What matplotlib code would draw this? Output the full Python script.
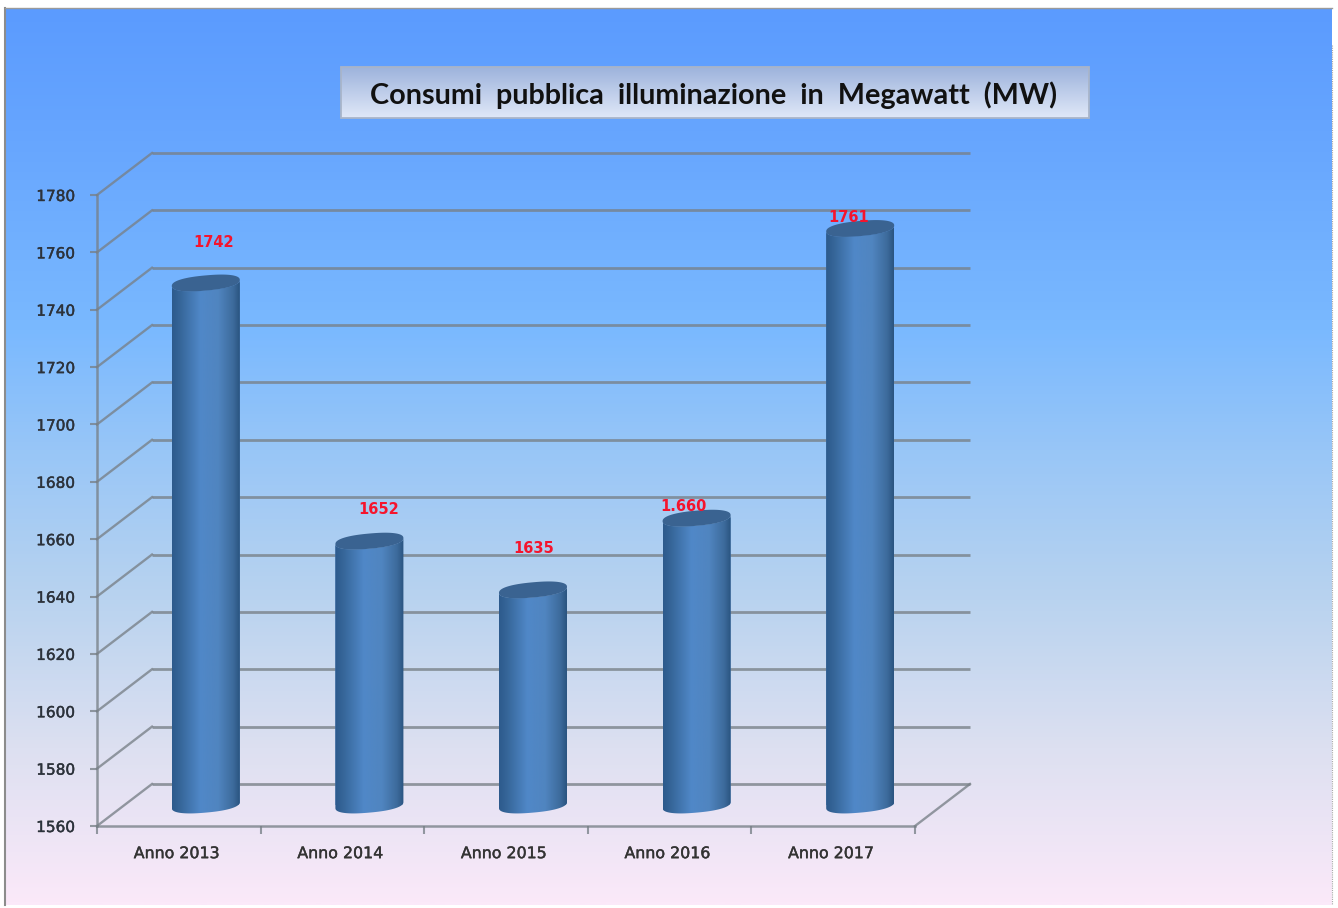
import numpy as np
import matplotlib
matplotlib.use("Agg")
import matplotlib.pyplot as plt
import matplotlib.patheffects as pe
from matplotlib.colors import LinearSegmentedColormap
from matplotlib.patches import PathPatch, Rectangle
from matplotlib.path import Path
from matplotlib.transforms import Affine2D, IdentityTransform

categories = ["Anno 2013", "Anno 2014", "Anno 2015", "Anno 2016", "Anno 2017"]
values = [1742, 1652, 1635, 1660, 1761]
value_labels = ["1742", "1652", "1635", "1.660", "1761"]
y_ticks = list(range(1560, 1781, 20))
title = "Consumi  pubblica  illuminazione  in  Megawatt  (MW)"

W, H = 1338, 908
fig = plt.figure(figsize=(W / 100, H / 100), dpi=100, facecolor="white")

# ---------- background (pixel coordinates, y down)
bg = fig.add_axes([0, 0, 1, 1], zorder=0)
bg.set_xlim(0, W); bg.set_ylim(H, 0); bg.axis("off")
stops = [(8, "#5b9bff"), (130, "#66a5fe"), (330, "#7ab9ff"), (450, "#98c6f7"),
         (600, "#b9d3ef"), (750, "#dde0f1"), (905, "#fbe9f9")]
cm = LinearSegmentedColormap.from_list(
    "bgc", [((y - 8) / (905 - 8), c) for y, c in stops])
bg.imshow(np.linspace(0, 1, 512)[:, None], cmap=cm, extent=(5, 1332, 905, 8),
          aspect="auto", zorder=0)
bg.set_xlim(0, W); bg.set_ylim(H, 0)
bg.plot([5, 5], [8, 905], color="#8c8c8c", lw=1.5, zorder=1)
bg.plot([5, 1332], [8, 8], color="#9a9a9a", lw=1.0, zorder=1)
bg.plot([1332, 1332], [45, 905], color="#a8a8a8", lw=0.8, ls=(0, (1, 1)), zorder=1)

# title box
tcm = LinearSegmentedColormap.from_list("tb", ["#9db3dc", "#e0e8f8"])
bg.imshow(np.linspace(0, 1, 128)[:, None], cmap=tcm, extent=(341, 1089, 118, 67),
          aspect="auto", zorder=2)
bg.set_xlim(0, W); bg.set_ylim(H, 0)
bg.add_patch(Rectangle((341, 67), 748, 51, fill=False, ec="#a9b5c9", lw=1.3, zorder=3))
bg.text(714, 95.5, title, ha="center", va="center", fontsize=20.7,
        family="Lato", weight="bold", color="#111111", zorder=4)

# ---------- chart axes
ax = fig.add_axes([97 / W, 1 - 826 / H, (915 - 97) / W, (826 - 195) / H], zorder=1)
ax.patch.set_alpha(0)
ax.set_xlim(-0.5, 4.5)
ax.set_ylim(1560, 1780)
for s in ("top", "right"):
    ax.spines[s].set_visible(False)
GRID = (0.47, 0.50, 0.53, 0.78)
for s in ("left", "bottom"):
    ax.spines[s].set_color(GRID)
    ax.spines[s].set_linewidth(1.8)
ax.set_yticks(y_ticks)
ax.set_xticks(np.arange(-0.5, 5.0, 1.0))
ax.set_xticklabels([])
ax.set_xticks(np.arange(len(categories)), categories, minor=True)
ax.tick_params(axis="y", length=5, width=1.5, color=GRID, pad=11, labelsize=11,
               labelcolor="#2b323c")
ax.tick_params(axis="x", which="major", length=6, width=1.5, color=GRID)
ax.tick_params(axis="x", which="minor", length=0, pad=14.5, labelsize=11.4,
               labelcolor="#333333")
stroke = [pe.withStroke(linewidth=0.3, foreground="#333333")]
for lab in ax.get_yticklabels():
    lab.set_transform(lab.get_transform() + Affine2D().translate(0, 0))
    lab.set_path_effects(stroke)
for lab in ax.get_xticklabels(minor=True):
    lab.set_transform(lab.get_transform() + Affine2D().translate(-2, 0))
    lab.set_path_effects(stroke)

DX, DY = 55, 42      # depth of the box, pixels
back = ax.transData + Affine2D().translate(DX, DY)
mid = ax.transData + Affine2D().translate(DX / 2 - 0.5, DY / 2)

# back wall lines and the slanted side-wall lines
for v in y_ticks:
    ax.plot([-0.5, 4.5], [v, v], transform=back, color=GRID, lw=2.0,
            clip_on=False, zorder=1, solid_capstyle="butt")
    p0 = ax.transData.transform((-0.5, v))
    ax.plot([p0[0], p0[0] + DX], [p0[1], p0[1] + DY], transform=IdentityTransform(),
            color=GRID, lw=1.7, clip_on=False, zorder=1)
p1 = ax.transData.transform((4.5, 1560))
ax.plot([p1[0], p1[0] + DX], [p1[1], p1[1] + DY], transform=IdentityTransform(),
        color=GRID, lw=1.7, clip_on=False, zorder=1)

# ---------- cylinders
BAR_W = 68 / ((915 - 97) / 5)
side = LinearSegmentedColormap.from_list(
    "cyl", [(0, "#2d5a8c"), (0.12, "#366699"), (0.42, "#5088c8"),
            (0.68, "#5085c0"), (0.9, "#3d6b9c"), (1, "#2a5480")])
A, B, TILT = 34.0, 7.6, 3.0


def arc(cx, cy, t0, t1, n=80):
    t = np.linspace(t0, t1, n)
    c, s = np.cos(t), np.sin(t)
    c = np.sign(c) * np.abs(c) ** 0.85
    s = np.sign(s) * np.abs(s) ** 0.85
    return np.column_stack([cx + A * c, cy + B * s + TILT * c])


bars = ax.bar(range(len(values)), np.array(values) - 1560, bottom=1560, width=BAR_W,
              color="#4a80bd", transform=mid, clip_on=False, zorder=3)
for i, v in enumerate(values):
    cxb, cyb = mid.transform((i, 1560))
    cxt, cyt = mid.transform((i, v))
    # body: front half of the top ellipse, down, front half of the bottom ellipse
    top_front = arc(cxt, cyt, 0, -np.pi)
    bot_front = arc(cxb, cyb, -np.pi, 0)
    verts = np.vstack([top_front, bot_front, top_front[:1]])
    body = Path(verts, closed=True)
    patch = PathPatch(body, transform=IdentityTransform(), fc="none", ec="none")
    ax.add_patch(patch)
    bars[i].set_clip_on(True)
    bars[i].set_clip_path(patch)
    im = ax.imshow(np.linspace(0, 1, 256)[None, :], cmap=side, aspect="auto",
                   extent=(i - BAR_W / 2, i + BAR_W / 2, 1545, v + 5), transform=mid,
                   zorder=4, clip_on=True)
    im.set_clip_path(patch)
    cap = Path(arc(cxt, cyt, 0, 2 * np.pi, 120), closed=True)
    ax.add_patch(PathPatch(cap, transform=IdentityTransform(), fc="#3a6391", ec="none",
                           zorder=5, clip_on=False))
ax.set_xlim(-0.5, 4.5)
ax.set_ylim(1560, 1780)

# ---------- value labels (pixel offset from each cylinder's top)
label_offsets = [(8, 40), (9, 32), (1, 41), (-13, 12), (-12, 11)]
for i, (v, s) in enumerate(zip(values, value_labels)):
    ax.annotate(s, xy=(i, v), xycoords=mid, xytext=(label_offsets[i][0] * 0.72,
                label_offsets[i][1] * 0.72), textcoords="offset points",
                ha="center", va="center", color="#f5142d", fontsize=10.5,
                weight="bold", zorder=6, annotation_clip=False)

fig.savefig("out.png", dpi=100)
